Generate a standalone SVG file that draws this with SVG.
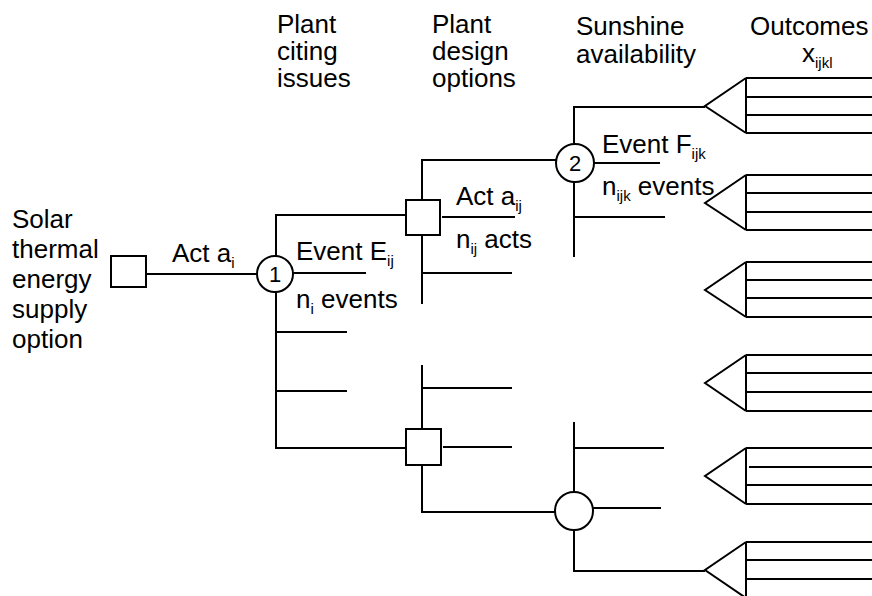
<svg xmlns="http://www.w3.org/2000/svg" width="872" height="596" viewBox="0 0 872 596">
<style>
  text { font-family: "Liberation Sans", Arial, sans-serif; font-size: 26px; fill: #000; }
  .sub { font-size: 15px; }
  .num { font-size: 22px; text-anchor: middle; }
  .node { fill: #fff; stroke: #000; stroke-width: 2; }
  .ln { fill: none; stroke: #000; stroke-width: 2; }
</style>
<rect width="872" height="596" fill="#fff"/>

<g id="headers">
  <text x="12" y="228">Solar</text>
  <text x="12" y="258">thermal</text>
  <text x="12" y="288">energy</text>
  <text x="12" y="318">supply</text>
  <text x="12" y="348">option</text>
  <text x="277" y="33">Plant</text>
  <text x="277" y="60">citing</text>
  <text x="277" y="87">issues</text>
  <text x="432" y="33">Plant</text>
  <text x="432" y="60">design</text>
  <text x="432" y="87">options</text>
  <text x="576" y="35">Sunshine</text>
  <text x="576" y="63">availability</text>
  <text x="750" y="35">Outcomes</text>
  <text x="802" y="62">x<tspan class="sub" dy="6">ijkl</tspan></text>
</g>

<g id="connectors" class="ln">
  <line x1="147" y1="274" x2="257" y2="274"/>
  <polyline points="406,215 276,215 276,448 406,448"/>
  <line x1="293" y1="273" x2="366" y2="273"/>
  <line x1="276" y1="332" x2="347" y2="332"/>
  <line x1="276" y1="391" x2="347" y2="391"/>
  <polyline points="557,160 422,160 422,304"/>
  <line x1="442" y1="217" x2="515" y2="217"/>
  <line x1="422" y1="273" x2="512" y2="273"/>
  <polyline points="556,512 422,512 422,365"/>
  <line x1="422" y1="388" x2="512" y2="388"/>
  <line x1="443" y1="447" x2="512" y2="447"/>
  <polyline points="705,107 574,107 574,257"/>
  <line x1="594" y1="163" x2="660" y2="163"/>
  <line x1="574" y1="217" x2="665" y2="217"/>
  <polyline points="705,571 574,571 574,422"/>
  <line x1="574" y1="448" x2="664" y2="448"/>
  <line x1="593" y1="508" x2="661" y2="508"/>
</g>

<g id="root-decision">
  <rect class="node" x="111" y="256" width="35" height="31"/>
</g>
<g id="chance-1">
  <circle class="node" cx="275" cy="274" r="18"/>
  <text class="num" x="275" y="282">1</text>
</g>
<g id="decision-2">
  <rect class="node" x="406" y="200" width="34" height="35"/>
</g>
<g id="decision-3">
  <rect class="node" x="406" y="429" width="35" height="36"/>
</g>
<g id="chance-2">
  <circle class="node" cx="575" cy="163" r="19"/>
  <text class="num" x="575" y="171">2</text>
</g>
<g id="chance-3">
  <circle class="node" cx="574" cy="511" r="19"/>
</g>

<g id="outcome-1" class="ln">
  <polyline points="746,78 705,106 746,133"/>
  <line x1="746" y1="78" x2="746" y2="133"/>
  <line x1="746" y1="78" x2="872" y2="78"/>
  <line x1="746" y1="97" x2="872" y2="97"/>
  <line x1="746" y1="115" x2="872" y2="115"/>
  <line x1="746" y1="133" x2="872" y2="133"/>
</g>
<g id="outcome-2" class="ln">
  <polyline points="746,175 705,203 746,230"/>
  <line x1="746" y1="175" x2="746" y2="230"/>
  <line x1="746" y1="175" x2="872" y2="175"/>
  <line x1="746" y1="193" x2="872" y2="193"/>
  <line x1="746" y1="212" x2="872" y2="212"/>
  <line x1="746" y1="230" x2="872" y2="230"/>
</g>
<g id="outcome-3" class="ln">
  <polyline points="746,262 705,290 746,317"/>
  <line x1="746" y1="262" x2="746" y2="317"/>
  <line x1="746" y1="262" x2="872" y2="262"/>
  <line x1="746" y1="280" x2="872" y2="280"/>
  <line x1="746" y1="298" x2="872" y2="298"/>
  <line x1="746" y1="317" x2="872" y2="317"/>
</g>
<g id="outcome-4" class="ln">
  <polyline points="746,355 705,383 746,411"/>
  <line x1="746" y1="355" x2="746" y2="411"/>
  <line x1="746" y1="355" x2="872" y2="355"/>
  <line x1="746" y1="373" x2="872" y2="373"/>
  <line x1="746" y1="392" x2="872" y2="392"/>
  <line x1="746" y1="411" x2="872" y2="411"/>
</g>
<g id="outcome-5" class="ln">
  <polyline points="746,448 705,476 746,504"/>
  <line x1="746" y1="448" x2="746" y2="504"/>
  <line x1="746" y1="448" x2="872" y2="448"/>
  <line x1="749" y1="467" x2="872" y2="467"/>
  <line x1="746" y1="485" x2="872" y2="485"/>
  <line x1="746" y1="504" x2="872" y2="504"/>
</g>
<g id="outcome-6" class="ln">
  <polyline points="746,542 705,570 746,598"/>
  <line x1="746" y1="542" x2="746" y2="598"/>
  <line x1="746" y1="542" x2="872" y2="542"/>
  <line x1="746" y1="560" x2="872" y2="560"/>
  <line x1="746" y1="579" x2="872" y2="579"/>
</g>

<g id="labels">
  <text x="172" y="262">Act a<tspan class="sub" dy="6">i</tspan></text>
  <text x="296" y="260">Event E<tspan class="sub" dy="6">ij</tspan></text>
  <text x="296" y="308">n<tspan class="sub" dy="6">i</tspan><tspan dy="-6"> events</tspan></text>
  <text x="456" y="205">Act a<tspan class="sub" dy="6">ij</tspan></text>
  <text x="456" y="248">n<tspan class="sub" dy="6">ij</tspan><tspan dy="-6"> acts</tspan></text>
  <text x="602" y="153">Event F<tspan class="sub" dy="6">ijk</tspan></text>
  <text x="602" y="195">n<tspan class="sub" dy="6">ijk</tspan><tspan dy="-6"> events</tspan></text>
</g>
</svg>
